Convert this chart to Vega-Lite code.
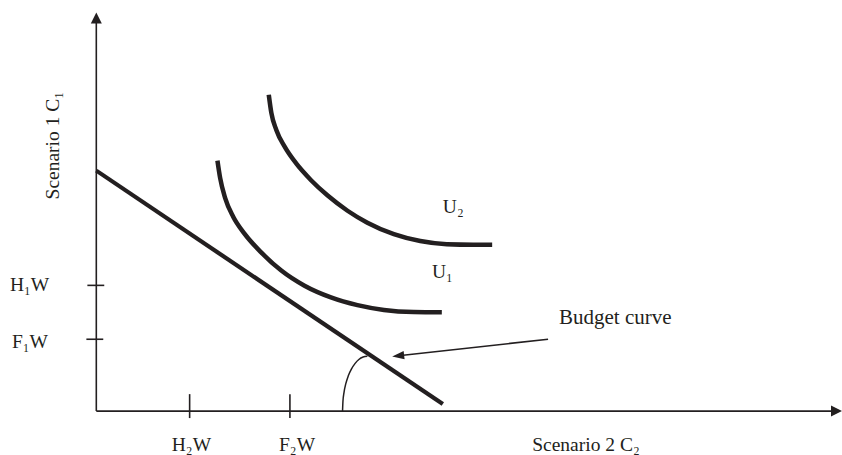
{
  "$schema": "https://vega.github.io/schema/vega-lite/v6.json",
  "width": 842,
  "height": 455,
  "autosize": {"type": "fit", "contains": "padding"},
  "padding": 0,
  "background": "white",
  "config": {"view": {"stroke": null}},
  "datasets": {
    "segments": [
      {"part": "y axis", "x": 0, "y": 0, "x2": 0, "y2": 390},
      {"part": "x axis", "x": 0, "y": 0, "x2": 741, "y2": 0},
      {"part": "tick H1W", "x": -9, "y": 126, "x2": 8, "y2": 126},
      {"part": "tick F1W", "x": -10, "y": 72, "x2": 7, "y2": 72},
      {"part": "tick H2W", "x": 94, "y": 17, "x2": 94, "y2": -7},
      {"part": "tick F2W", "x": 195, "y": 17, "x2": 195, "y2": -7},
      {"part": "pointer", "x": 455, "y": 72, "x2": 309, "y2": 56}
    ],
    "budget": [
      {"x": 0, "y": 241},
      {"x": 349, "y": 7}
    ],
    "curves": [
      {"curve": "U1", "x": 122, "y": 251},
      {"curve": "U1", "x": 124.7, "y": 233.7},
      {"curve": "U1", "x": 129.7, "y": 213.7},
      {"curve": "U1", "x": 138, "y": 194.6},
      {"curve": "U1", "x": 148.8, "y": 178.4},
      {"curve": "U1", "x": 166.3, "y": 158.8},
      {"curve": "U1", "x": 186.3, "y": 140.8},
      {"curve": "U1", "x": 209.7, "y": 125.6},
      {"curve": "U1", "x": 236.3, "y": 113.9},
      {"curve": "U1", "x": 263, "y": 106.2},
      {"curve": "U1", "x": 289.7, "y": 101.4},
      {"curve": "U1", "x": 319.7, "y": 99.3},
      {"curve": "U1", "x": 348, "y": 99},
      {"curve": "U2", "x": 173.7, "y": 317},
      {"curve": "U2", "x": 176.3, "y": 298.8},
      {"curve": "U2", "x": 181.3, "y": 281.8},
      {"curve": "U2", "x": 189.7, "y": 265},
      {"curve": "U2", "x": 201.3, "y": 248.2},
      {"curve": "U2", "x": 216.3, "y": 231.4},
      {"curve": "U2", "x": 233, "y": 216},
      {"curve": "U2", "x": 253, "y": 200.8},
      {"curve": "U2", "x": 273, "y": 188.8},
      {"curve": "U2", "x": 299.7, "y": 177.3},
      {"curve": "U2", "x": 326.3, "y": 170.4},
      {"curve": "U2", "x": 353, "y": 167.2},
      {"curve": "U2", "x": 379.7, "y": 166.7},
      {"curve": "U2", "x": 398.7, "y": 166.7}
    ],
    "arc": [
      {"x": 248, "y": 0},
      {"x": 248.4, "y": 9.6},
      {"x": 249.5, "y": 18.8},
      {"x": 251.3, "y": 27.5},
      {"x": 253.8, "y": 35.4},
      {"x": 256.9, "y": 42.1},
      {"x": 260.5, "y": 47.6},
      {"x": 264.4, "y": 51.7},
      {"x": 268.7, "y": 54.2},
      {"x": 273, "y": 55}
    ],
    "heads": [
      {"head": "y axis", "x": 0, "y": 394},
      {"head": "x axis", "x": 745.5, "y": 0},
      {"head": "pointer", "x": 304, "y": 55.4}
    ],
    "labels": [
      {"text": "H₁W", "x": -87, "y": 120},
      {"text": "F₁W", "x": -85, "y": 63},
      {"text": "H₂W", "x": 76, "y": -40},
      {"text": "F₂W", "x": 184, "y": -40},
      {"text": "Scenario 2 C₂", "x": 439, "y": -40},
      {"text": "U₂", "x": 349, "y": 199},
      {"text": "U₁", "x": 338, "y": 133}
    ],
    "note": [
      {"text": "Budget curve", "x": 466, "y": 87}
    ],
    "ytitle": [
      {"text": "Scenario 1 C₁", "x": -38, "y": 266}
    ]
  },
  "layer": [
    {
      "data": {"name": "segments"},
      "mark": {"type": "rule", "color": "#231f20", "strokeWidth": 1.6},
      "encoding": {
        "x": {"field": "x", "type": "quantitative", "scale": {"domain": [-97, 745], "nice": false, "zero": false}, "axis": null},
        "y": {"field": "y", "type": "quantitative", "scale": {"domain": [-43, 412], "nice": false, "zero": false}, "axis": null},
        "x2": {"field": "x2"},
        "y2": {"field": "y2"}
      }
    },
    {
      "data": {"name": "budget"},
      "mark": {"type": "line", "color": "#231f20", "strokeWidth": 4.2},
      "encoding": {
        "x": {"field": "x", "type": "quantitative", "scale": {"domain": [-97, 745], "nice": false, "zero": false}, "axis": null},
        "y": {"field": "y", "type": "quantitative", "scale": {"domain": [-43, 412], "nice": false, "zero": false}, "axis": null}
      }
    },
    {
      "data": {"name": "curves"},
      "mark": {"type": "line", "color": "#231f20", "strokeWidth": 4.5, "interpolate": "monotone"},
      "encoding": {
        "x": {"field": "x", "type": "quantitative", "scale": {"domain": [-97, 745], "nice": false, "zero": false}, "axis": null},
        "y": {"field": "y", "type": "quantitative", "scale": {"domain": [-43, 412], "nice": false, "zero": false}, "axis": null},
        "detail": {"field": "curve", "type": "nominal"}
      }
    },
    {
      "data": {"name": "arc"},
      "mark": {"type": "line", "color": "#231f20", "strokeWidth": 1.5, "interpolate": "monotone"},
      "encoding": {
        "x": {"field": "x", "type": "quantitative", "scale": {"domain": [-97, 745], "nice": false, "zero": false}, "axis": null},
        "y": {"field": "y", "type": "quantitative", "scale": {"domain": [-43, 412], "nice": false, "zero": false}, "axis": null}
      }
    },
    {
      "data": {"name": "heads"},
      "transform": [{"filter": "datum.head === 'y axis'"}],
      "mark": {"type": "point", "shape": "M0,-1L1,1L-1,1Z", "size": 121, "filled": true, "color": "#231f20", "opacity": 1},
      "encoding": {
        "x": {"field": "x", "type": "quantitative", "scale": {"domain": [-97, 745], "nice": false, "zero": false}, "axis": null},
        "y": {"field": "y", "type": "quantitative", "scale": {"domain": [-43, 412], "nice": false, "zero": false}, "axis": null}
      }
    },
    {
      "data": {"name": "heads"},
      "transform": [{"filter": "datum.head === 'x axis'"}],
      "mark": {"type": "point", "shape": "M0,-1L1,1L-1,1Z", "size": 121, "angle": 90, "filled": true, "color": "#231f20", "opacity": 1},
      "encoding": {
        "x": {"field": "x", "type": "quantitative", "scale": {"domain": [-97, 745], "nice": false, "zero": false}, "axis": null},
        "y": {"field": "y", "type": "quantitative", "scale": {"domain": [-43, 412], "nice": false, "zero": false}, "axis": null}
      }
    },
    {
      "data": {"name": "heads"},
      "transform": [{"filter": "datum.head === 'pointer'"}],
      "mark": {"type": "point", "shape": "M-1,0L1,-0.7L1,0.7Z", "size": 144, "angle": -6.3, "filled": true, "color": "#231f20", "opacity": 1},
      "encoding": {
        "x": {"field": "x", "type": "quantitative", "scale": {"domain": [-97, 745], "nice": false, "zero": false}, "axis": null},
        "y": {"field": "y", "type": "quantitative", "scale": {"domain": [-43, 412], "nice": false, "zero": false}, "axis": null}
      }
    },
    {
      "data": {"name": "labels"},
      "mark": {"type": "text", "align": "left", "baseline": "alphabetic", "font": "Liberation Serif", "fontSize": 19.5, "color": "#231f20"},
      "encoding": {
        "x": {"field": "x", "type": "quantitative", "scale": {"domain": [-97, 745], "nice": false, "zero": false}, "axis": null},
        "y": {"field": "y", "type": "quantitative", "scale": {"domain": [-43, 412], "nice": false, "zero": false}, "axis": null},
        "text": {"field": "text", "type": "nominal"}
      }
    },
    {
      "data": {"name": "note"},
      "mark": {"type": "text", "align": "left", "baseline": "alphabetic", "font": "Liberation Serif", "fontSize": 21, "color": "#231f20"},
      "encoding": {
        "x": {"field": "x", "type": "quantitative", "scale": {"domain": [-97, 745], "nice": false, "zero": false}, "axis": null},
        "y": {"field": "y", "type": "quantitative", "scale": {"domain": [-43, 412], "nice": false, "zero": false}, "axis": null},
        "text": {"field": "text", "type": "nominal"}
      }
    },
    {
      "data": {"name": "ytitle"},
      "mark": {"type": "text", "align": "center", "baseline": "alphabetic", "angle": 270, "font": "Liberation Serif", "fontSize": 19.5, "color": "#231f20"},
      "encoding": {
        "x": {"field": "x", "type": "quantitative", "scale": {"domain": [-97, 745], "nice": false, "zero": false}, "axis": null},
        "y": {"field": "y", "type": "quantitative", "scale": {"domain": [-43, 412], "nice": false, "zero": false}, "axis": null},
        "text": {"field": "text", "type": "nominal"}
      }
    }
  ]
}
